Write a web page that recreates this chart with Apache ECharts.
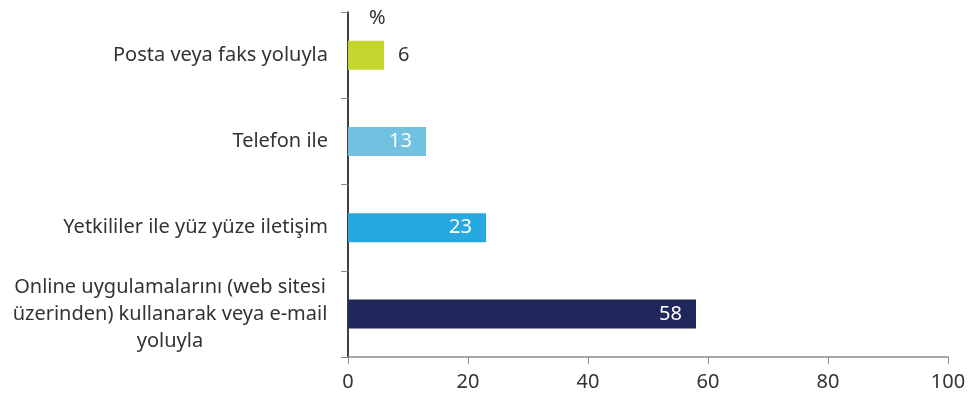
<!DOCTYPE html>
<html>
<head>
<meta charset="utf-8">
<script src="https://cdn.jsdelivr.net/npm/echarts@6/dist/echarts.min.js"></script>
<style>
  html, body { margin: 0; padding: 0; background: #fff; }
  #chart { width: 970px; height: 397px; }
</style>
</head>
<body>
<div id="chart"></div>
<script>
// Başvuru kanalları (%)
const categories = [
  'Posta veya faks yoluyla',
  'Telefon ile',
  'Yetkililer ile yüz yüze iletişim',
  'Online uygulamalarını (web sitesi\nüzerinden) kullanarak veya e-mail\nyoluyla'
];
const values = [6, 13, 23, 58];
const barColors = ['#c5d52f', '#72c1e0', '#27a8e0', '#20275a'];
const xTicks = [0, 20, 40, 60, 80, 100];

const FONT = '"Noto Sans", sans-serif';
const TEXT = '#333333';

const chart = echarts.init(document.getElementById('chart'), null, { renderer: 'canvas' });

const catData = categories.map((c) => {
  if (c.indexOf('\n') >= 0) {
    // multi-line label is centred on its own widest line
    return { value: c, textStyle: { align: 'center', padding: [4, 316, 0, 0] } };
  }
  return c;
});

chart.setOption({
  animation: false,
  title: {
    text: '%',
    left: 364,
    top: 3,
    textStyle: { fontFamily: FONT, fontSize: 20, fontWeight: 'normal', color: TEXT }
  },
  grid: { left: 348, right: 22, top: 12, bottom: 40, containLabel: false },
  xAxis: {
    type: 'value',
    min: xTicks[0],
    max: xTicks[xTicks.length - 1],
    interval: 20,
    axisLine: { show: true, lineStyle: { color: '#8a8a8a', width: 1.5 } },
    axisTick: { show: true, length: 7, lineStyle: { color: '#8a8a8a' } },
    splitLine: { show: false },
    axisLabel: { fontFamily: FONT, fontSize: 20, color: TEXT, margin: 15 }
  },
  yAxis: {
    type: 'category',
    inverse: true,
    data: catData,
    axisLine: { show: true, lineStyle: { color: '#000', width: 1.5 } },
    axisTick: { show: true, length: 7, lineStyle: { color: '#8a8a8a' } },
    axisLabel: {
      fontFamily: FONT, fontSize: 20, color: TEXT, margin: 20, lineHeight: 27, align: 'right'
    }
  },
  series: [{
    type: 'bar',
    barWidth: 29,
    data: values.map((v, i) => ({
      value: v,
      itemStyle: { color: barColors[i] },
      label: i === 0
        ? { position: 'right', color: TEXT, distance: 14 }
        : { position: 'insideRight', color: '#fff', distance: 14 }
    })),
    label: {
      show: true,
      fontFamily: FONT,
      fontSize: 20
    }
  }]
});
</script>
</body>
</html>
